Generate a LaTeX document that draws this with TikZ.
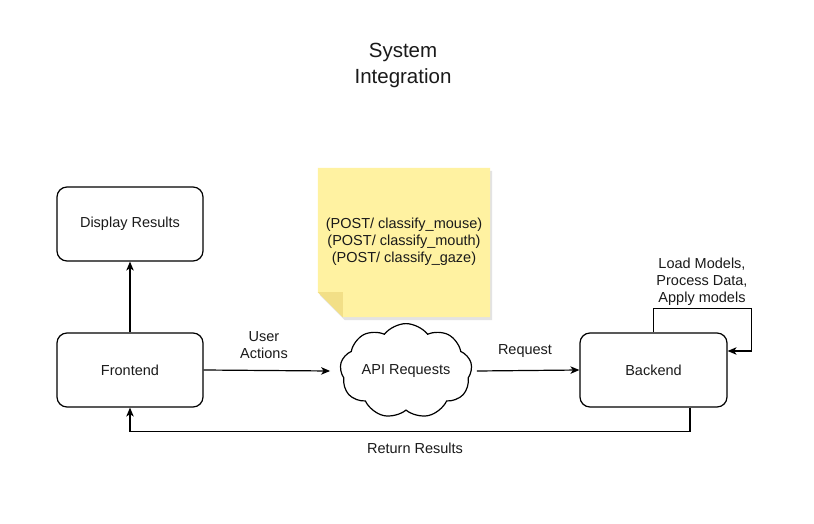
\documentclass[tikz,border=0pt]{standalone}
\usepackage{fontspec}
\setmainfont{Liberation Sans}
\usetikzlibrary{arrows.meta,shapes.symbols,shadows,calc}
\definecolor{txt}{HTML}{1A1A1A}
\definecolor{notefill}{HTML}{FFF2A1}
\definecolor{notefold}{HTML}{F2DF87}
\begin{document}
\begin{tikzpicture}[x=1pt,y=-1pt,
  every node/.style={font=\fontsize{14.5}{17}\selectfont, text=txt},
  box/.style={draw=black, line width=1.2pt, rounded corners=10pt, minimum width=146pt, minimum height=74pt, fill=white},
  lbl/.style={align=center, inner sep=0pt},
  arr/.style={draw=black, line width=1.2pt, -{Stealth[length=9pt,width=7.5pt,inset=2.5pt]}},
]
\useasboundingbox (0,0) rectangle (814,524);
\fill[white] (0,0) rectangle (814,524);

% title
\node[lbl, font=\fontsize{20.5}{26}\selectfont] (title) at (403,65) {System\\Integration};

% note
\node[minimum width=172pt, minimum height=149pt, inner sep=0pt] (note) at (404,242.5) {};
\path[fill=notefill, drop shadow={opacity=0.22, shadow xshift=2pt, shadow yshift=-3pt}]
  (note.north west) -- (note.north east) -- (note.south east)
  -- ($(note.south west)+(25,0)$) -- ($(note.south west)+(0,-25)$) -- cycle;
\fill[notefold] ($(note.south west)+(0,-25)$) -- ($(note.south west)+(25,-25)$) -- ($(note.south west)+(25,0)$) -- cycle;
\node[lbl] (notetext) at (404,241.5) {(POST/ classify\_mouse)\\(POST/ classify\_mouth)\\(POST/ classify\_gaze)};

% boxes
\node[box] (disp) at (130,224) {Display Results};
\node[box] (front) at (130,370) {Frontend};
\node[box, minimum width=147pt] (back) at (653.5,370) {Backend};
\node[cloud, draw=black, line width=1.2pt, cloud puffs=9, cloud puff arc=105, aspect=1.6,
      minimum width=132pt, minimum height=84pt, inner sep=0pt] (cloud) at (406,371) {API Requests};

% connectors
\draw[arr] (front) -- (disp);
\draw[arr] (front.east) -- ($(cloud.west)+(-10,0)$);
\draw[arr] ($(cloud.east)+(5,0)$) -- (back.west);
\draw[arr] ($(back.south)+(36.5,0)$) -- ($(back.south)+(36.5,24)$) -| (front.south);
\draw[arr] (back.north) -- ($(back.north)+(0,-24)$) -| ($(back.east)+(24,-19)$) -- ($(back.east)+(0,-19)$);

% labels
\node[lbl] (ua) at (264,345) {User\\Actions};
\node[lbl] (rq) at (525,351) {Request};
\node[lbl] (rr) at (415,448) {Return Results};
\node[lbl] (lm) at (702,282) {Load Models,\\Process Data,\\Apply models};
\end{tikzpicture}
\end{document}
